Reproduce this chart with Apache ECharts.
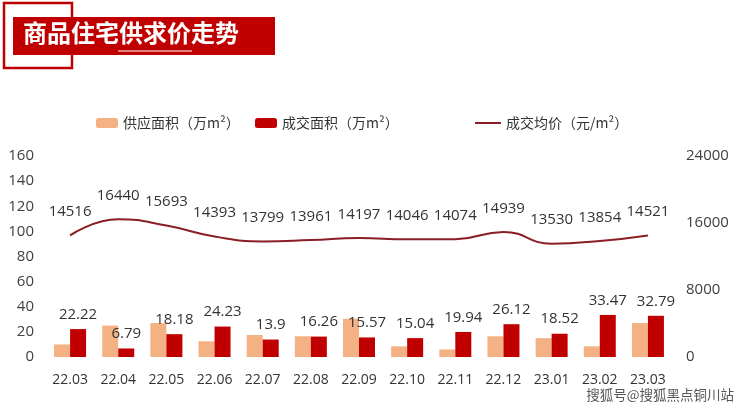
<!DOCTYPE html>
<html><head><meta charset="utf-8">
<script src="https://cdn.jsdelivr.net/npm/echarts@6/dist/echarts.min.js"></script>
<style>html,body{margin:0;padding:0;background:#fff}#c{width:740px;height:411px}</style>
</head><body><div id="c"></div>
<script>
const categories = ['22.03','22.04','22.05','22.06','22.07','22.08','22.09','22.10','22.11','22.12','23.01','23.02','23.03'];
const supplyArea = [10, 25, 27, 12.5, 17.5, 16.5, 30.5, 8.5, 6, 16.5, 15, 8.5, 27];
const salesArea = [22.22, 6.79, 18.18, 24.23, 13.9, 16.26, 15.57, 15.04, 19.94, 26.12, 18.52, 33.47, 32.79];
const avgPrice = [14516, 16440, 15693, 14393, 13799, 13961, 14197, 14046, 14074, 14939, 13530, 13854, 14521];
const leftTicks = [0, 160, 20];
const rightTicks = [0, 24000, 8000];

const FONT = '"Open Sans","Noto Sans CJK SC",sans-serif';
const chart = echarts.init(document.getElementById('c'));
const legendText = {fontSize: 14, color: '#333', fontFamily: '"Noto Sans CJK SC",sans-serif'};
chart.setOption({
  backgroundColor: '#fff',
  textStyle: {fontFamily: FONT},
  grid: {left: 46, right: 68, top: 156, bottom: 54, containLabel: false},
  legend: [
    {data: ['供应面积（万m²）'], left: 91, top: 111, itemWidth: 22, itemHeight: 10, textStyle: legendText},
    {data: ['成交面积（万m²）'], left: 250, top: 111, itemWidth: 22, itemHeight: 10, textStyle: legendText},
    {data: [{name: '成交均价（元/m²）', icon: 'rect'}], left: 470, top: 111, itemWidth: 26, itemHeight: 2, textStyle: legendText}
  ],
  xAxis: {
    type: 'category', data: categories,
    axisLine: {show: false}, axisTick: {show: false},
    axisLabel: {color: '#333', fontSize: 14, margin: 16, fontFamily: FONT}
  },
  yAxis: [
    {type: 'value', min: leftTicks[0], max: leftTicks[1], interval: leftTicks[2],
     splitLine: {show: false}, axisLine: {show: false}, axisTick: {show: false},
     axisLabel: {color: '#404040', fontSize: 15, margin: 12, fontFamily: FONT}},
    {type: 'value', min: rightTicks[0], max: rightTicks[1], interval: rightTicks[2],
     splitLine: {show: false}, axisLine: {show: false}, axisTick: {show: false},
     axisLabel: {color: '#404040', fontSize: 15, margin: 14, fontFamily: FONT, formatter: v => String(v)}}
  ],
  series: [
    {name: '供应面积（万m²）', type: 'bar', data: supplyArea, barWidth: 16, barGap: '0%',
     itemStyle: {color: '#F4B183'}},
    {name: '成交面积（万m²）', type: 'bar', data: salesArea, barWidth: 16,
     itemStyle: {color: '#C00000'},
     label: {show: true, position: 'top', distance: 7, fontSize: 15, color: '#333', fontFamily: FONT}},
    {name: '成交均价（元/m²）', type: 'line', yAxisIndex: 1, data: avgPrice, smooth: 0.5,
     symbol: 'circle', symbolSize: 0.01, showSymbol: true,
     lineStyle: {color: '#8B1E24', width: 2}, itemStyle: {color: '#8B1E24'},
     label: {show: true, position: 'top', distance: 16, fontSize: 15, color: '#333', fontFamily: FONT}}
  ],
  graphic: [
    {type: 'rect', shape: {x: 4, y: 3, width: 68, height: 65}, style: {fill: 'none', stroke: '#C00000', lineWidth: 2.5}, z: 10},
    {type: 'rect', shape: {x: 13, y: 17, width: 262, height: 38}, style: {fill: '#C00000'}, z: 11},
    {type: 'text', left: 23, top: 21, style: {text: '商品住宅供求价走势', fill: '#fff', font: 'bold 24px "Noto Sans CJK SC",sans-serif'}, z: 12},
    {type: 'line', shape: {x1: 118, y1: 51, x2: 192, y2: 51}, style: {stroke: '#fff', lineWidth: 1.2}, z: 12},
    {type: 'text', right: 6, top: 388, style: {text: '搜狐号@搜狐黑点铜川站', fill: '#555', font: '13.5px "Noto Sans CJK SC",sans-serif'}, z: 12}
  ]
});
</script></body></html>
